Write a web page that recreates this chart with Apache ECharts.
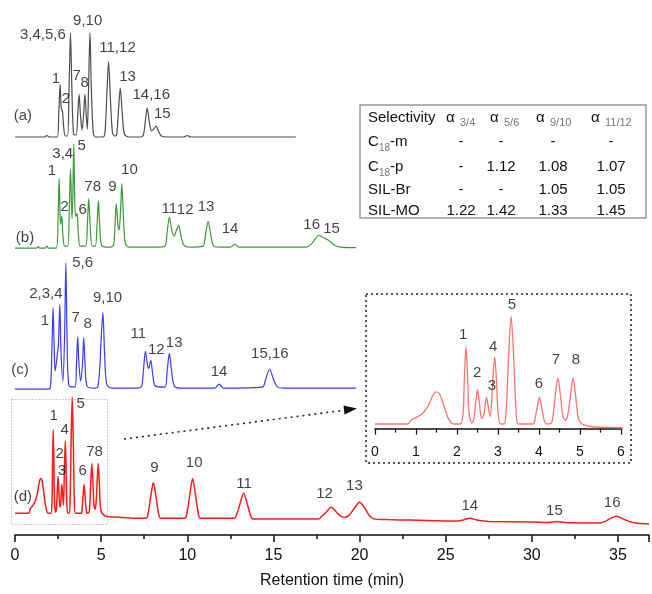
<!DOCTYPE html>
<html>
<head>
<meta charset="utf-8">
<script src="https://cdn.jsdelivr.net/npm/echarts@6/dist/echarts.min.js"></script>
<style>
html,body{margin:0;padding:0;background:#fff;}
#chart{width:652px;height:594px;}
</style>
</head>
<body>
<div id="chart"></div>
<script>
// chromatogram traces: [retention time (min), signal above own baseline]
var traceA = [[0,0],[1.7,0],[1.85,1.5],[2.0,0],[2.45,0],[2.54,24],[2.62,53],[2.68,30],[2.76,25],[2.83,9],[2.92,1],
  [3.05,1],[3.14,50],[3.22,105],[3.3,50],[3.4,3],[3.55,2],[3.64,22],[3.72,43],[3.8,22],[3.89,7],[3.98,22],[4.06,43],
  [4.14,20],[4.2,8],[4.27,50],[4.35,105],[4.43,50],[4.55,3],[4.7,0],[5.1,0],[5.22,4],[5.32,38],[5.43,76],[5.54,38],
  [5.66,4],[5.8,1],[5.9,2],[6.0,25],[6.11,49],[6.22,25],[6.35,3],[6.6,0],[7.3,0],[7.45,2],[7.56,15],[7.67,29],
  [7.8,15],[7.93,6],[8.05,8],[8.19,11],[8.32,6],[8.5,1],[8.8,0],[9.8,0],[10.0,1.5],[10.2,0],[16.3,0]];

var traceB = [[0,0],[1.25,0],[1.35,1.5],[1.45,0],[1.75,0],[1.85,2],[1.95,0],[2.4,0],[2.5,30],[2.56,70],[2.62,32],
  [2.65,24],[2.72,32],[2.78,14],[2.88,2],[3.06,2],[3.15,38],[3.22,80],[3.28,45],[3.31,30],[3.36,55],[3.41,105],
  [3.46,55],[3.52,32],[3.6,35],[3.68,14],[3.78,2],[4.1,2],[4.2,24],[4.28,50],[4.36,24],[4.48,2],[4.66,2],[4.76,23],
  [4.84,48],[4.92,23],[5.05,2],[5.5,1],[5.72,3],[5.8,22],[5.88,45],[5.97,24],[6.04,18],[6.12,35],[6.2,65],[6.29,32],
  [6.4,5],[6.6,1],[8.3,1],[8.7,2],[8.83,16],[8.96,31],[9.1,18],[9.23,12],[9.37,18],[9.5,23],[9.64,12],[9.8,3],
  [10.2,1],[10.9,2],[11.06,14],[11.21,27],[11.36,14],[11.55,2],[12.0,1],[12.5,1],[12.76,4],[13.0,1],[16.5,1],
  [16.9,1],[17.2,4],[17.45,10],[17.63,13],[17.85,11],[18.2,8],[18.55,3],[18.9,1],[19.8,0.5]];

var traceC = [[0,0],[1.9,0],[2.05,1],[2.14,38],[2.21,82],[2.28,38],[2.33,18],[2.45,34],[2.52,45],[2.6,85],[2.67,38],
  [2.78,8],[2.88,55],[2.95,127],[3.02,55],[3.12,4],[3.48,2],[3.57,26],[3.64,53],[3.71,26],[3.81,8],[3.92,26],
  [3.99,52],[4.07,24],[4.18,3],[4.6,1],[4.8,2],[4.92,22],[5.0,50],[5.1,77],[5.2,36],[5.32,5],[5.6,1],[7.1,1],
  [7.35,3],[7.46,20],[7.57,38],[7.7,23],[7.76,21],[7.88,29],[8.0,14],[8.15,3],[8.7,2],[8.83,18],[8.96,36],
  [9.09,18],[9.25,3],[9.6,1],[11.6,1],[11.85,5],[12.1,1],[14.35,2],[14.55,10],[14.78,20],[15.0,10],[15.25,2],
  [15.6,1],[19.8,1]];

var traceD = [[0,5],[0.8,5],[0.88,9],[1.0,12],[1.15,16],[1.3,25],[1.42,37],[1.5,40],[1.58,37],[1.7,22],[1.8,10],
  [1.92,5],[2.09,5],[2.15,18],[2.18,55],[2.22,89],[2.26,55],[2.29,18],[2.36,6],[2.41,10],[2.46,30],[2.5,42],
  [2.54,30],[2.6,11],[2.66,16],[2.69,27],[2.72,34],[2.75,27],[2.81,13],[2.87,50],[2.92,78],[2.965,50],[3.0,18],
  [3.06,5],[3.15,5],[3.2,20],[3.255,75],[3.32,122],[3.385,75],[3.44,20],[3.5,5],[3.86,5],[3.9,10],[3.955,23],
  [4.01,34],[4.065,23],[4.12,10],[4.18,5],[4.3,6],[4.34,13],[4.4,37],[4.46,55],[4.52,37],[4.58,14],[4.645,9],
  [4.7,14],[4.77,37],[4.83,55],[4.89,37],[4.95,13],[5.0,7],[5.1,4],[5.3,2],[6,1],[7,0],[7.62,0],[7.73,5],
  [7.88,22],[8.03,36],[8.18,22],[8.33,5],[8.45,0],[9.87,0],[9.99,6],[10.15,24],[10.31,40],[10.47,24],[10.63,6],
  [10.75,0],[12.73,0],[12.87,4],[13.07,15],[13.27,25],[13.47,15],[13.67,3],[13.82,-1],[17.6,-1],[17.76,1],
  [18.06,6],[18.36,11],[18.66,6],[18.9,2],[19.15,1],[19.4,3],[19.7,10],[20.0,16],[20.3,10],[20.6,2],[20.9,-1],
  [21.6,-1.5],[23,-2],[25.7,-3],[26.0,-2],[26.4,0],[26.8,-1.8],[27.2,-3],[27.5,-3.5],[30,-4],[31.0,-4.5],
  [31.45,-3.5],[31.9,-4.5],[33.5,-5],[33.9,-5],[34.3,-3],[34.6,0],[34.9,2],[35.2,0],[35.6,-3],[36.0,-5],[36.8,-6]];

// peak labels: [text, time, height above baseline]
var labelsA = [['(a)',0.46,21],['1',2.37,59],['2',2.95,38],['3,4,5,6',1.62,103],['7',3.58,62],['8',4.04,55],
  ['9,10',4.22,117],['11,12',5.95,90],['13',6.53,61],['14,16',7.91,42],['15',8.55,23]];
var labelsB = [['(b)',0.58,10],['1',2.14,78],['2',2.89,42],['3,4',2.77,95],['5',3.87,103],['6',3.93,39],['78',4.51,62],
  ['9',5.66,62],['10',6.64,79],['11',8.95,40],['12',9.88,39],['13',11.09,42],['14',12.48,19],['16',17.22,23],['15',18.37,19]];
var labelsC = [['(c)',0.29,19],['1',1.73,69],['2,3,4',1.79,96],['5,6',3.93,127],['7',3.52,72],['8',4.22,66],
  ['9,10',5.37,92],['11',7.16,56],['12',8.2,40],['13',9.24,47],['14',11.84,17],['15,16',14.79,35]];
var labelsD = [['(d)',0.46,21],['1',2.25,103],['2',2.6,65],['3',2.72,48],['4',2.89,89],['5',3.81,115],['6',3.93,48],
  ['78',4.62,67],['9',8.09,51],['10',10.4,56],['11',13.29,35],['12',17.97,24],['13',19.7,33],['14',26.4,12],
  ['15',31.31,7],['16',34.66,15]];
var labelsInset = [['1',2.15,101.7],['2',2.49,60.4],['3',2.85,46.3],['4',2.88,88.7],['5',3.34,134.4],
  ['6',4.0,48.5],['7',4.41,74.6],['8',4.9,74.6]];

// selectivity table
var tableCols = ['3/4', '5/6', '9/10', '11/12'];
var tableRows = [['C', '18', '-m'], ['C', '18', '-p'], ['SIL-Br', '', ''], ['SIL-MO', '', '']];
var tableValues = [
  ['-', '-', '-', '-'],
  ['-', '1.12', '1.08', '1.07'],
  ['-', '-', '1.05', '1.05'],
  ['1.22', '1.42', '1.33', '1.45']
];

var FONT = 'Liberation Sans, Arial, sans-serif';
var INK = '#111';
var myChart = echarts.init(document.getElementById('chart'));

function shift(points, off) {
  return points.map(function (p) { return [p[0], p[1] + off]; });
}
function lineSeries(points, off, color, width, xi) {
  return {
    type: 'line', xAxisIndex: xi, yAxisIndex: xi, data: shift(points, off),
    symbol: 'none', smooth: 0.3, animation: false, silent: true,
    lineStyle: {color: color, width: width}
  };
}
function labelSeries(labels, off, xi) {
  return {
    type: 'scatter', xAxisIndex: xi, yAxisIndex: xi, symbolSize: 0, silent: true, z: 5,
    data: labels.map(function (l) { return {name: l[0], value: [l[1], l[2] + off]}; }),
    label: {show: true, position: 'inside', formatter: '{b}', fontSize: 15, fontFamily: FONT, color: INK}
  };
}

// table graphics
var graphics = [];
var tx = 360, ty = 105, rowY = [118, 142, 167, 190, 211];
var colX = [461, 501, 553, 611], alphaX = [446, 490, 536, 591];
graphics.push({type: 'rect', shape: {x: tx, y: ty, width: 286, height: 113},
  style: {fill: '#fff', stroke: '#9a9a9a', lineWidth: 1.5}});
function txt(s, x, y, size, color, align) {
  graphics.push({type: 'text', x: x, y: y, style: {text: s, font: size + 'px ' + FONT,
    fill: color || INK, textAlign: align || 'left', textVerticalAlign: 'middle'}});
}
txt('Selectivity', 368, rowY[0], 15);
tableCols.forEach(function (c, i) {
  txt('α', alphaX[i], rowY[0], 15);
  txt(c, alphaX[i] + 14, rowY[0] + 5, 11, '#777');
});
tableRows.forEach(function (r, i) {
  var y = rowY[i + 1];
  txt(r[0], 368, y, 15);
  if (r[1]) {
    txt(r[1], 379, y + 6, 10, '#777');
    txt(r[2], 390, y, 15);
  }
  tableValues[i].forEach(function (v, j) { txt(v, colX[j], y, 15, INK, 'center'); });
});
// zoom box, inset frame and arrow
graphics.push({type: 'rect', shape: {x: 11.5, y: 399.5, width: 96, height: 125},
  style: {fill: 'none', stroke: '#9a9a9a', lineWidth: 1, lineDash: [1, 2]}});
graphics.push({type: 'rect', shape: {x: 366, y: 294, width: 265, height: 169},
  style: {fill: 'none', stroke: '#222', lineWidth: 1.5, lineDash: [2, 3]}});
graphics.push({type: 'line', shape: {x1: 124, y1: 439, x2: 346, y2: 410},
  style: {stroke: '#222', lineWidth: 1.6, lineDash: [2, 4]}});
graphics.push({type: 'polygon', shape: {points: [[357, 408.5], [344.5, 414.5], [343.5, 405.5]]},
  style: {fill: '#111'}});

var option = {
  animation: false,
  backgroundColor: '#fff',
  grid: [
    {left: 15, right: 0, top: 0, bottom: 55},
    {left: 375, right: 31, top: 300, bottom: 155}
  ],
  xAxis: [{
    type: 'value', gridIndex: 0, min: 0, max: 36.8, interval: 5,
    name: 'Retention time (min)', nameLocation: 'middle', nameGap: 38,
    nameTextStyle: {fontSize: 16, fontFamily: FONT, color: INK},
    axisLine: {lineStyle: {color: INK, width: 1.5}},
    axisTick: {length: 7, lineStyle: {color: INK, width: 1.5}},
    minorTick: {show: true, splitNumber: 2, length: 4, lineStyle: {color: INK, width: 1.5}},
    axisLabel: {fontSize: 16, fontFamily: FONT, color: INK, margin: 13,
      formatter: function (v) { return v % 5 === 0 ? String(v) : ''; }},
    splitLine: {show: false}
  }, {
    type: 'value', gridIndex: 1, min: 0, max: 6, interval: 1,
    axisLine: {lineStyle: {color: INK, width: 1.5}},
    axisTick: {length: 6, lineStyle: {color: INK, width: 1.2}},
    minorTick: {show: true, splitNumber: 2, length: 4, lineStyle: {color: INK, width: 1.2}},
    axisLabel: {fontSize: 14, fontFamily: FONT, color: INK, margin: 6},
    splitLine: {show: false}
  }],
  yAxis: [
    {type: 'value', gridIndex: 0, min: 0, max: 539, show: false},
    {type: 'value', gridIndex: 1, min: -11.3, max: 139.8, show: false}
  ],
  series: [
    lineSeries(traceA, 401, '#4d4d4d', 1.2, 0),
    lineSeries(traceB, 289, '#3a9a3a', 1.2, 0),
    lineSeries(traceC, 147, '#3b3bff', 1.2, 0),
    lineSeries(traceD, 17, '#ff1a1a', 1.5, 0),
    lineSeries(traceD, 0, '#ff7373', 1.3, 1),
    labelSeries(labelsA, 401, 0),
    labelSeries(labelsB, 289, 0),
    labelSeries(labelsC, 147, 0),
    labelSeries(labelsD, 17, 0),
    labelSeries(labelsInset, 0, 1)
  ],
  graphic: graphics
};
myChart.setOption(option);
</script>
</body>
</html>
